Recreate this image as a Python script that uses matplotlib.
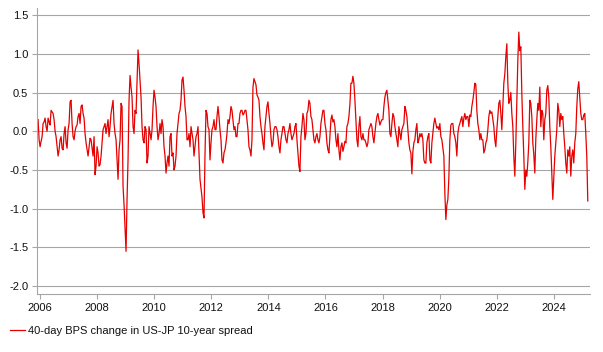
import matplotlib
matplotlib.use("Agg")
import matplotlib.pyplot as plt
import pandas as pd

# 40-day change (bps) in the US-JP 10-year spread
# (about one reading every 12-13 days)
bps_2006_08 = [0.15, -0.11, -0.20, -0.13, -0.07, 0.10, 0.12, 0.17, 0.06, 0.00,
               0.17, 0.12, 0.08, 0.27, 0.25, 0.23, 0.15, 0.00, -0.07, -0.20,
               -0.32, -0.24, -0.11, -0.07, -0.22, -0.24, -0.03, 0.06, -0.15, -0.22,
               0.02, 0.10, 0.38, 0.40, 0.10, -0.07, -0.11, 0.00, 0.06, 0.08,
               0.19, 0.23, 0.10, 0.32, 0.34, 0.23, 0.17, -0.03, -0.15, -0.24,
               -0.32, -0.20, -0.09, -0.11, -0.22, -0.32, -0.07, -0.56, -0.45, -0.20,
               -0.28, -0.45, -0.43, -0.32, -0.15, 0.02, 0.06, 0.10]
bps_2008_10 = [-0.03, 0.06, 0.15, -0.07, 0.06, 0.23, 0.32, 0.40, 0.10, -0.03,
               -0.11, -0.37, -0.62, -0.24, -0.11, 0.36, 0.32, -0.71, -0.95, -1.26,
               -1.55, -0.88, -0.37, 0.40, 0.72, 0.57, 0.44, 0.06, -0.03, 0.27,
               0.23, 0.62, 1.05, 0.87, 0.66, 0.44, 0.06, -0.11, -0.15, 0.06,
               0.02, -0.41, -0.32, 0.06, -0.03, -0.11, 0.02, 0.32, 0.53, 0.44,
               0.32, 0.06, -0.11, -0.03, 0.10, -0.03, 0.15, 0.06, -0.20, -0.32,
               -0.54, -0.41, -0.32, -0.45, -0.07, -0.03, -0.32, -0.28, -0.50, -0.45]
bps_2010_13 = [-0.32, -0.03, 0.10, 0.23, 0.27, 0.40, 0.66, 0.70, 0.53, 0.32,
               0.19, -0.11, -0.11, -0.03, -0.20, 0.06, -0.03, -0.11, -0.32, -0.20,
               -0.07, -0.03, 0.06, -0.28, -0.62, -0.73, -0.85, -1.05, -1.12, -0.30,
               0.27, 0.23, 0.06, 0.02, -0.37, -0.15, 0.02, 0.06, 0.15, 0.02,
               0.02, 0.19, 0.32, 0.19, 0.02, -0.11, -0.37, -0.41, -0.28, -0.24,
               -0.15, -0.03, 0.15, 0.10, 0.19, 0.32, 0.27, 0.15, 0.02, 0.06,
               -0.07, -0.07, 0.10, 0.10, 0.23, 0.27, 0.27, 0.21, 0.23, 0.27]
bps_2013_15 = [0.27, 0.15, 0.02, -0.20, -0.24, -0.32, -0.11, 0.57, 0.68, 0.64,
               0.60, 0.47, 0.44, 0.40, 0.19, 0.06, -0.03, -0.15, -0.24, 0.06,
               0.19, 0.32, 0.38, 0.23, 0.10, -0.07, -0.20, -0.15, 0.02, 0.06,
               0.06, 0.02, -0.07, -0.20, -0.28, -0.11, -0.03, 0.06, 0.06, -0.03,
               -0.11, -0.15, -0.03, 0.02, 0.10, -0.03, -0.11, -0.07, -0.03, 0.06,
               0.10, -0.11, -0.28, -0.45, -0.52, -0.07, 0.06, 0.23, 0.15, -0.11,
               -0.03, 0.23, 0.27, 0.40, 0.36, 0.19, 0.15, 0.02, -0.11, -0.15]
bps_2015_18 = [-0.07, -0.03, -0.11, -0.15, -0.07, 0.10, 0.19, 0.27, 0.27, 0.10,
               0.02, -0.15, -0.24, -0.28, -0.07, 0.15, 0.21, 0.12, 0.15, 0.06,
               -0.11, -0.20, -0.03, -0.24, -0.37, -0.20, -0.15, -0.26, -0.20, -0.13,
               -0.15, 0.06, 0.10, 0.19, 0.35, 0.62, 0.62, 0.71, 0.62, 0.40,
               0.15, -0.11, -0.20, 0.06, 0.19, -0.07, -0.11, -0.03, -0.11, -0.11,
               -0.15, -0.20, -0.15, 0.02, 0.06, 0.10, 0.06, -0.07, -0.15, -0.03,
               0.10, 0.19, 0.23, 0.15, 0.08, 0.12, 0.15, 0.15, 0.32, 0.44]
bps_2018_20 = [0.50, 0.53, 0.40, 0.27, -0.03, -0.07, 0.10, 0.23, 0.19, 0.06,
               -0.03, -0.11, -0.20, 0.06, -0.03, -0.11, 0.02, 0.06, 0.10, 0.32,
               0.27, 0.19, 0.02, -0.15, -0.24, -0.28, -0.55, -0.26, -0.15, -0.11,
               0.02, 0.10, -0.15, -0.11, -0.03, -0.07, -0.03, -0.11, -0.37, -0.41,
               -0.41, -0.15, -0.07, -0.03, -0.37, -0.41, -0.15, -0.03, 0.10, 0.17,
               0.10, 0.04, 0.06, 0.02, 0.10, -0.07, -0.11, -0.22, -0.32, -0.80,
               -1.14, -0.95, -0.88, -0.60, -0.11, 0.08, 0.10, 0.10, -0.03, -0.07]
bps_2020_23 = [-0.15, -0.32, -0.03, 0.06, 0.10, 0.15, 0.19, 0.06, 0.17, 0.23,
               0.15, 0.19, 0.19, 0.06, 0.21, 0.19, 0.32, 0.40, 0.50, 0.62,
               0.60, 0.27, 0.10, 0.02, -0.11, -0.03, -0.11, -0.11, -0.28, -0.24,
               -0.15, -0.11, 0.02, 0.19, 0.27, 0.23, 0.25, 0.15, 0.06, -0.11,
               -0.20, 0.02, 0.19, 0.36, 0.40, 0.23, 0.02, 0.32, 0.62, 0.74,
               0.96, 1.13, 0.62, 0.36, 0.40, 0.50, 0.23, 0.06, -0.33, -0.58,
               -0.15, 0.40, 0.91, 1.28, 1.04, 1.09, 0.49, 0.06, -0.32, -0.75]
bps_2023_25 = [-0.50, -0.58, -0.40, -0.15, 0.40, 0.36, 0.19, -0.15, -0.30, -0.54,
               -0.10, 0.15, 0.36, 0.27, 0.57, 0.06, 0.27, 0.23, -0.11, 0.15,
               0.23, 0.53, 0.59, 0.44, 0.06, -0.20, -0.54, -0.88, -0.60, -0.32,
               -0.15, 0.02, 0.36, 0.27, 0.06, 0.23, 0.15, 0.19, -0.03, -0.20,
               -0.41, -0.54, -0.24, -0.32, -0.20, -0.58, -0.32, -0.24, -0.41, -0.15,
               -0.03, 0.32, 0.55, 0.64, 0.44, 0.23, 0.15, 0.15, 0.21, 0.23,
               -0.03, -0.32, -0.90]

spread = (bps_2006_08 + bps_2008_10 + bps_2010_13 + bps_2013_15
          + bps_2015_18 + bps_2018_20 + bps_2020_23 + bps_2023_25)
dates = pd.date_range("2005-12-06", "2025-03-11", periods=len(spread))

year_ticks = list(range(2006, 2025, 2))
y_ticks = [1.5, 1.0, 0.5, 0.0, -0.5, -1.0, -1.5, -2.0]
legend_label = "40-day BPS change in US-JP 10-year spread"

plt.rcParams["font.family"] = ["Liberation Sans", "DejaVu Sans"]
plt.rcParams["axes.unicode_minus"] = False

grid_col = "#a6a6a6"
text_col = "#111111"

fig = plt.figure(figsize=(6.03, 3.52), dpi=100)
ax = fig.add_axes([0.062, 0.165, 0.916, 0.812])

ax.plot(dates, spread, color="#e60000", linewidth=0.9, label=legend_label)

ax.set_xlim(pd.Timestamp("2005-11-27"), pd.Timestamp("2025-04-05"))
ax.set_ylim(-2.1, 1.59)

ax.set_xticks([pd.Timestamp(f"{y}-01-01") for y in year_ticks])
ax.set_xticklabels([str(y) for y in year_ticks])
ax.set_yticks(y_ticks)
ax.set_yticklabels([f"{v:.1f}" for v in y_ticks])

ax.grid(axis="y", color=grid_col, linewidth=0.8)
ax.set_axisbelow(True)
for side in ["top", "right"]:
    ax.spines[side].set_visible(False)
for side in ["left", "bottom"]:
    ax.spines[side].set_color(grid_col)
    ax.spines[side].set_linewidth(0.8)

ax.tick_params(axis="both", colors=grid_col, labelcolor=text_col,
               labelsize=8, length=3.5, width=0.8, pad=3)

fig.legend(loc="center left", bbox_to_anchor=(0.0166, 0.06), frameon=False,
           fontsize=8, handlelength=1.35, handletextpad=0.27,
           borderpad=0, borderaxespad=0, labelcolor=text_col)

fig.savefig("out.png", dpi=100)
